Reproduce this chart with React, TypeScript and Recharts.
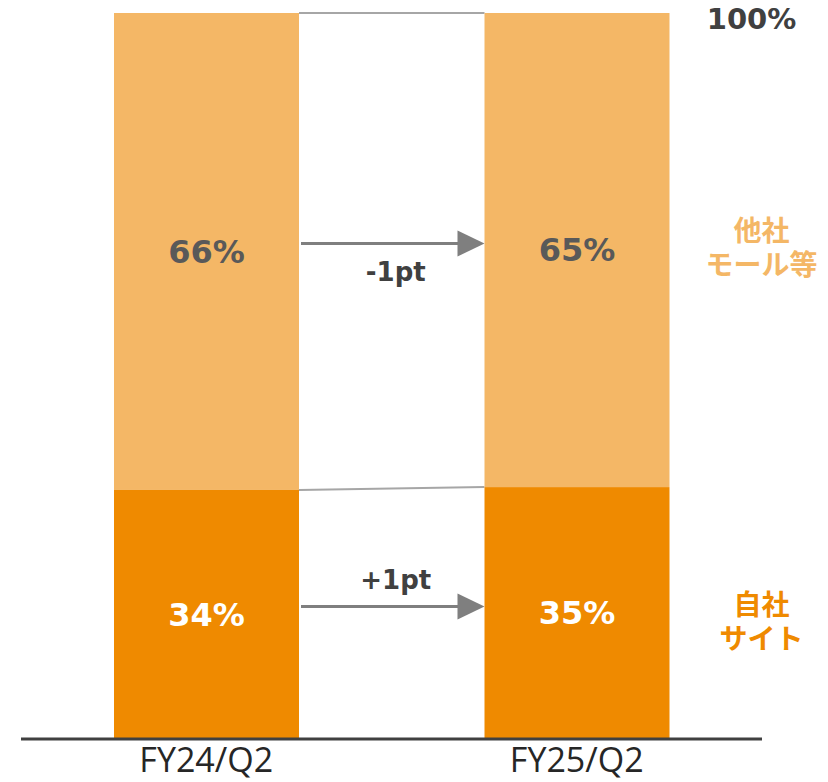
import React from "react";
import { BarChart, Bar, XAxis, YAxis, LabelList } from "recharts";

const categories = ["FY24/Q2", "FY25/Q2"];
const ownSite = [34.3, 34.7];
const otherMalls = [65.7, 65.3];
const ownLabels = ["34%", "35%"];
const otherLabels = ["66%", "65%"];
const ownDelta = "+1pt";
const otherDelta = "-1pt";
const ownName = ["自社", "サイト"];
const otherName = ["他社", "モール等"];
const totalLabel = "100%";

const data = categories.map((c, i) => ({
  cat: c,
  own: ownSite[i],
  other: otherMalls[i],
  ownLabel: ownLabels[i],
  otherLabel: otherLabels[i],
}));

const CHART_W = 828;
const CHART_H = 782;
const MARGIN = { top: 13, right: 66, bottom: 0, left: 21 };
const BAND = (CHART_W - MARGIN.left - MARGIN.right) / categories.length;

const C_OWN = "#EF8A00";
const C_OTHER = "#F4B766";
const C_CONN = "#A6A6A6";
const C_ARROW = "#7F7F7F";
const C_TEXT = "#404040";
const BOLD_FONT = "'DejaVu Sans', Verdana, sans-serif";
const CJK_FONT = "'Noto Sans CJK JP', sans-serif";

function Arrow({ x1, x2, y }: { x1: number; x2: number; y: number }) {
  const head = 27;
  return (
    <g>
      <line x1={x1} y1={y} x2={x2 - head + 2} y2={y} stroke={C_ARROW} strokeWidth={3} />
      <polygon points={`${x2},${y} ${x2 - head},${y - 13} ${x2 - head},${y + 13}`} fill={C_ARROW} />
    </g>
  );
}

function makeShape(key: "own" | "other") {
  return (props: any) => {
    const { x, y, width, height, index, payload, fill } = props;
    const k = height / payload[key];
    const els: React.ReactNode[] = [
      <rect key="r" x={x} y={y} width={width} height={height} fill={fill} />,
    ];
    if (index === 0) {
      const next = data[1];
      let yNext = y;
      if (key === "own") {
        yNext = y + height - next.own * k;
      } else {
        yNext = y + height - (next.own + next.other - payload.own) * k;
      }
      els.push(
        <line key="c" x1={x + width} y1={y} x2={x + BAND} y2={yNext} stroke={C_CONN} strokeWidth={2} />
      );
      const ay = y + height / 2 - 8;
      els.push(<Arrow key="a" x1={x + width + 2} x2={x + BAND} y={ay} />);
      const mid = x + width + (BAND - width) / 2 + 4;
      els.push(
        <text
          key="t"
          x={mid}
          y={key === "own" ? ay - 25 : ay + 30}
          textAnchor="middle"
          dominantBaseline="middle"
          fontFamily={BOLD_FONT}
          fontWeight="bold"
          fontSize={26}
          fill={C_TEXT}
        >
          {key === "own" ? ownDelta : otherDelta}
        </text>
      );
    }
    if (index === data.length - 1) {
      const cx = x + width + 92;
      const names = key === "own" ? ownName : otherName;
      const cy = key === "own" ? y + height / 2 + 7 : y + height / 2 - 4;
      els.push(
        <text
          key="names"
          x={cx}
          y={cy - 17}
          textAnchor="middle"
          dominantBaseline="central"
          fontFamily={CJK_FONT}
          fontWeight="bold"
          fontSize={28}
          fill={key === "own" ? C_OWN : C_OTHER}
        >
          {names.map((n, i) => (
            <tspan key={i} x={cx} dy={i === 0 ? 0 : 34}>
              {n}
            </tspan>
          ))}
        </text>
      );
      if (key === "other") {
        els.push(
          <text
            key="tot"
            x={x + width + 82}
            y={y + 6}
            textAnchor="middle"
            dominantBaseline="central"
            fontFamily={BOLD_FONT}
            fontWeight="bold"
            fontSize={29}
            fill={C_TEXT}
          >
            {totalLabel}
          </text>
        );
      }
    }
    return <g>{els}</g>;
  };
}

const ownShape = makeShape("own");
const otherShape = makeShape("other");

function CatTick(props: any) {
  const { x, y, payload } = props;
  return (
    <text
      x={x}
      y={y + 33}
      textAnchor="middle"
      fontFamily="'Open Sans', sans-serif"
      fontSize={34}
      fill="#262626"
    >
      {payload.value}
    </text>
  );
}

export default function App() {
  return (
    <div style={{ position: "absolute", left: 0, top: 0, width: CHART_W, height: CHART_H }}>
      <BarChart width={CHART_W} height={CHART_H} data={data} margin={MARGIN} barSize={185}>
        <XAxis
          dataKey="cat"
          height={43}
          axisLine={{ stroke: "#404040", strokeWidth: 3 }}
          tickLine={false}
          tickSize={0}
          tickMargin={0}
          interval={0}
          tick={<CatTick />}
        />
        <YAxis hide domain={[0, 100]} />
        <Bar dataKey="own" stackId="a" fill={C_OWN} shape={ownShape} isAnimationActive={false}>
          <LabelList
            dataKey="ownLabel"
            position="center"
            fill="#FFFFFF"
            style={{ fontFamily: BOLD_FONT, fontWeight: "bold", fontSize: 32 }}
          />
        </Bar>
        <Bar dataKey="other" stackId="a" fill={C_OTHER} shape={otherShape} isAnimationActive={false}>
          <LabelList
            dataKey="otherLabel"
            position="center"
            fill="#595959"
            style={{ fontFamily: BOLD_FONT, fontWeight: "bold", fontSize: 32 }}
          />
        </Bar>
      </BarChart>
    </div>
  );
}
